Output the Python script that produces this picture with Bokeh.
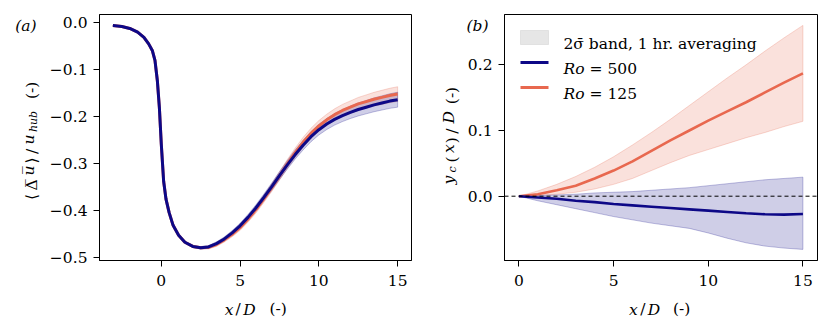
import numpy as np
from bokeh.plotting import figure
from bokeh.layouts import row
from bokeh.models import Label, Span, BoxAnnotation, FixedTicker, Range1d, LinearAxis
from bokeh.embed import file_html
from bokeh.resources import INLINE

BLUE = "#0d0887"
RED = "#e8684f"
FONT = "DejaVu Serif"
FS = "15.5px"
SUB = "11px"

# ---------------- data: panel (a) ----------------
xa = [-3.07, -2.5, -2.0, -1.5, -1.1, -0.8, -0.57, -0.4, -0.25, -0.12,
      0.0, 0.15, 0.3, 0.5, 0.75, 1.1, 1.5,
      2.0, 2.5, 3.0, 3.5, 4.0, 4.5, 5.0, 5.5, 6.0, 6.5, 7.0, 7.5, 8.0, 8.5,
      9.0, 9.5, 10.0, 10.5, 11.0, 11.5, 12.0, 12.5, 13.0, 13.5, 14.0, 14.5, 15.0]
du_ro500 = [-0.006, -0.008, -0.012, -0.020, -0.031, -0.045, -0.059, -0.080, -0.123, -0.181,
            -0.258, -0.338, -0.376, -0.405, -0.432, -0.453, -0.468,
            -0.477, -0.480, -0.478, -0.471, -0.461, -0.448, -0.433, -0.415, -0.395, -0.373,
            -0.350, -0.326, -0.303, -0.281, -0.261, -0.243, -0.228, -0.216, -0.206, -0.198,
            -0.191, -0.185, -0.180, -0.175, -0.171, -0.167, -0.164]
du_ro125 = [-0.006, -0.008, -0.012, -0.020, -0.031, -0.045, -0.059, -0.080, -0.123, -0.181,
            -0.258, -0.338, -0.376, -0.405, -0.432, -0.453, -0.468,
            -0.477, -0.480, -0.479, -0.473, -0.463, -0.451, -0.437, -0.419, -0.399, -0.376,
            -0.352, -0.327, -0.301, -0.277, -0.255, -0.236, -0.220, -0.207, -0.196, -0.187,
            -0.180, -0.173, -0.168, -0.163, -0.159, -0.155, -0.152]
# half width of the 2-sigma band
sig_ro500 = [0.0005, 0.0005, 0.0005, 0.0005, 0.0005, 0.0005, 0.0005, 0.0005, 0.0005, 0.0005,
             0.0008, 0.001, 0.001, 0.001, 0.001, 0.0012, 0.0015,
             0.002, 0.0025, 0.003, 0.0036, 0.0042, 0.0048, 0.0054, 0.006, 0.0066, 0.0072,
             0.0078, 0.0084, 0.009, 0.0096, 0.0102, 0.0107, 0.0112, 0.0117, 0.0122, 0.0127,
             0.0132, 0.0137, 0.0142, 0.0147, 0.0151, 0.0155, 0.0159]
sig_ro125 = [0.0005, 0.0005, 0.0005, 0.0005, 0.0005, 0.0005, 0.0005, 0.0005, 0.0005, 0.0005,
             0.0008, 0.001, 0.001, 0.001, 0.001, 0.0012, 0.0016,
             0.0022, 0.0028, 0.0034, 0.004, 0.0046, 0.0052, 0.0058, 0.0064, 0.007, 0.0076,
             0.0082, 0.0088, 0.0094, 0.01, 0.0105, 0.011, 0.0115, 0.012, 0.0125, 0.013,
             0.0134, 0.0138, 0.0142, 0.0146, 0.015, 0.0153, 0.0156]

# ---------------- data: panel (b) ----------------
xb = [0, 1, 2, 3, 4, 5, 6, 7, 8, 9, 10, 11, 12, 13, 14, 15]
yc_ro125 = [0.0, 0.003, 0.009, 0.016, 0.027, 0.039, 0.053, 0.069, 0.085, 0.100,
            0.115, 0.129, 0.143, 0.158, 0.173, 0.187]
yc_ro125_hi = [0.0, 0.008, 0.018, 0.030, 0.044, 0.060, 0.078, 0.097, 0.117, 0.138,
               0.159, 0.180, 0.200, 0.221, 0.241, 0.260]
yc_ro125_lo = [0.0, 0.001, 0.003, 0.006, 0.011, 0.018, 0.027, 0.039, 0.051, 0.062,
               0.071, 0.080, 0.089, 0.097, 0.106, 0.114]
yc_ro500 = [0.0, -0.002, -0.004, -0.007, -0.009, -0.012, -0.014, -0.016, -0.018, -0.020,
            -0.022, -0.024, -0.026, -0.0275, -0.028, -0.027]
yc_ro500_hi = [0.0, 0.001, 0.002, 0.003, 0.005, 0.006, 0.007, 0.009, 0.011, 0.013,
               0.016, 0.019, 0.022, 0.025, 0.027, 0.029]
yc_ro500_lo = [0.0, -0.007, -0.013, -0.019, -0.025, -0.031, -0.036, -0.041, -0.045, -0.049,
               -0.056, -0.064, -0.071, -0.076, -0.079, -0.081]

x_ticks = [0, 5, 10, 15]
x_tick_labels = ["0", "5", "10", "15"]
ya_ticks = [0.0, -0.1, -0.2, -0.3, -0.4, -0.5]
ya_tick_labels = ["0.0", "\u22120.1", "\u22120.2", "\u22120.3", "\u22120.4", "\u22120.5"]
yb_ticks = [0.0, 0.1, 0.2]
yb_tick_labels = ["0.0", "0.1", "0.2"]
band_label = "2\u03c3\u0304 band, 1 hr. averaging"
ro_values = ["500", "125"]


def style(p, xt, xl, yt, yl):
    p.xgrid.visible = False
    p.ygrid.visible = False
    p.outline_line_color = "black"
    p.outline_line_alpha = 1
    p.outline_line_width = 1
    p.background_fill_color = "white"
    p.border_fill_color = "white"
    for ax, t, l in ((p.xaxis[0], xt, xl), (p.yaxis[0], yt, yl)):
        ax.ticker = FixedTicker(ticks=t)
        ax.major_label_overrides = {v: s for v, s in zip(t, l)}
        ax.major_tick_out = 6
        ax.major_tick_in = 0
        ax.minor_tick_line_color = None
        ax.major_tick_line_color = "black"
        ax.axis_line_color = "black"
        ax.major_label_text_font = FONT
        ax.major_label_text_font_size = FS
        ax.major_label_text_color = "black"
    p.xaxis.major_label_standoff = 8
    p.yaxis.major_label_standoff = 6


def text_axis(p, side, pos, texts, standoff, size=FS, fstyle="normal", orient="horizontal"):
    """An axis with no line/ticks, used only to carry text pieces outside the frame."""
    ax = LinearAxis(ticker=FixedTicker(ticks=pos),
                    major_label_overrides={v: s for v, s in zip(pos, texts)},
                    axis_line_color=None, major_tick_line_color=None, minor_tick_line_color=None,
                    major_tick_out=0, major_tick_in=0, minor_tick_out=0, minor_tick_in=0,
                    major_label_standoff=standoff, major_label_orientation=orient,
                    major_label_text_font=FONT, major_label_text_font_size=size,
                    major_label_text_font_style=fstyle, major_label_text_color="black")
    p.add_layout(ax, side)


H = 333
# ---------------- panel (a) ----------------
pa = figure(width=420, height=H, output_backend="svg", toolbar_location=None,
            x_range=Range1d(-3.92, 15.88), y_range=Range1d(-0.507, 0.0177),
            min_border_left=99, min_border_right=9, min_border_top=14, min_border_bottom=73)
style(pa, x_ticks, x_tick_labels, ya_ticks, ya_tick_labels)

xa_arr = np.array(xa)
for u, s, col in ((du_ro125, sig_ro125, RED), (du_ro500, sig_ro500, BLUE)):
    u = np.array(u)
    s = np.array(s)
    px = np.concatenate([xa_arr, xa_arr[::-1]])
    py = np.concatenate([u + s, (u - s)[::-1]])
    pa.patch(px, py, fill_color=col, fill_alpha=0.2, line_color=col, line_alpha=0.25, line_width=1)
pa.line(xa, du_ro125, line_color=RED, line_width=3)
pa.line(xa, du_ro500, line_color=BLUE, line_width=3)

# y label pieces: <Δu>/u_hub (-)   (stacked text-carrier axes)
text_axis(pa, "left", [-0.2104], ["hub"], 6, size=SUB, fstyle="italic", orient="vertical")
text_axis(pa, "left", [-0.3714, -0.3458, -0.2936, -0.2744, -0.1443],
          ["\u27e8", "\u0394\u0305", "\u27e9", "/", "(-)"], -17, orient="vertical")
text_axis(pa, "left", [-0.3149, -0.2488], ["u\u0305", "u"], -18, fstyle="italic", orient="vertical")
text_axis(pa, "left", [-0.0058], ["(a)"], -19, fstyle="italic")
# x label pieces: x/D (-)
text_axis(pa, "below", [4.30, 5.60], ["x", "D"], 12, fstyle="italic")
text_axis(pa, "below", [4.876, 7.416], ["/", "(-)"], -22)

# ---------------- panel (b) ----------------
pb = figure(width=410, height=H, output_backend="svg", toolbar_location=None,
            x_range=Range1d(-0.76, 15.77), y_range=Range1d(-0.0979, 0.2766),
            min_border_left=84, min_border_right=13, min_border_top=14, min_border_bottom=73)
style(pb, x_ticks, x_tick_labels, yb_ticks, yb_tick_labels)

for hi, lo, col in ((yc_ro125_hi, yc_ro125_lo, RED), (yc_ro500_hi, yc_ro500_lo, BLUE)):
    pb.patch(xb + xb[::-1], hi + lo[::-1], fill_color=col, fill_alpha=0.2,
             line_color=col, line_alpha=0.25, line_width=1)
pb.add_layout(Span(location=0, dimension="width", line_color="black", line_dash="4 3",
                   line_width=1))
pb.line(xb, yc_ro125, line_color=RED, line_width=2.6)
pb.line(xb, yc_ro500, line_color=BLUE, line_width=2.6)

text_axis(pb, "left", [0.2598], ["(b)"], -24, fstyle="italic")
text_axis(pb, "left", [0.04064], ["c"], 4, size=SUB, fstyle="italic", orient="vertical")
text_axis(pb, "left", [0.05586, 0.0853, 0.0992, 0.1533], ["(", ")", "/", "(-)"], -18,
          orient="vertical")
text_axis(pb, "left", [0.02466, 0.0726, 0.1200], ["y", "x", "D"], -18, fstyle="italic",
          orient="vertical")
text_axis(pb, "below", [6.05, 7.13], ["x", "D"], 12, fstyle="italic")
text_axis(pb, "below", [6.550, 8.593], ["/", "(-)"], -22)


def putb(text, X, Y, fstyle="normal"):
    pb.add_layout(Label(x=X - 504, y=260 - Y, x_units="screen", y_units="screen",
                        text=text, text_font=FONT, text_font_size=FS, text_font_style=fstyle,
                        text_color="black", text_align="left", text_baseline="alphabetic"))


def sbox(X0, X1, Y0, Y1, col, alpha, lalpha):
    pb.add_layout(BoxAnnotation(left=X0 - 504, right=X1 - 504, top=260 - Y0, bottom=260 - Y1,
                                left_units="screen", right_units="screen",
                                top_units="screen", bottom_units="screen",
                                fill_color=col, fill_alpha=alpha, line_color=col,
                                line_alpha=lalpha, line_width=1))


# legend (manual, inside the frame)
sbox(520, 548, 30, 44, "gray", 0.2, 0.15)
sbox(520, 548, 60.5, 63.5, BLUE, 1.0, 0.0)
sbox(520, 548, 85.5, 88.5, RED, 1.0, 0.0)
putb(band_label, 563, 43)
putb("Ro", 563, 68, fstyle="italic")
putb("= " + ro_values[0], 589, 68)
putb("Ro", 563, 93, fstyle="italic")
putb("= " + ro_values[1], 589, 93)

layout = row(pa, pb)
open("out.html", "w").write(file_html(layout, INLINE))
